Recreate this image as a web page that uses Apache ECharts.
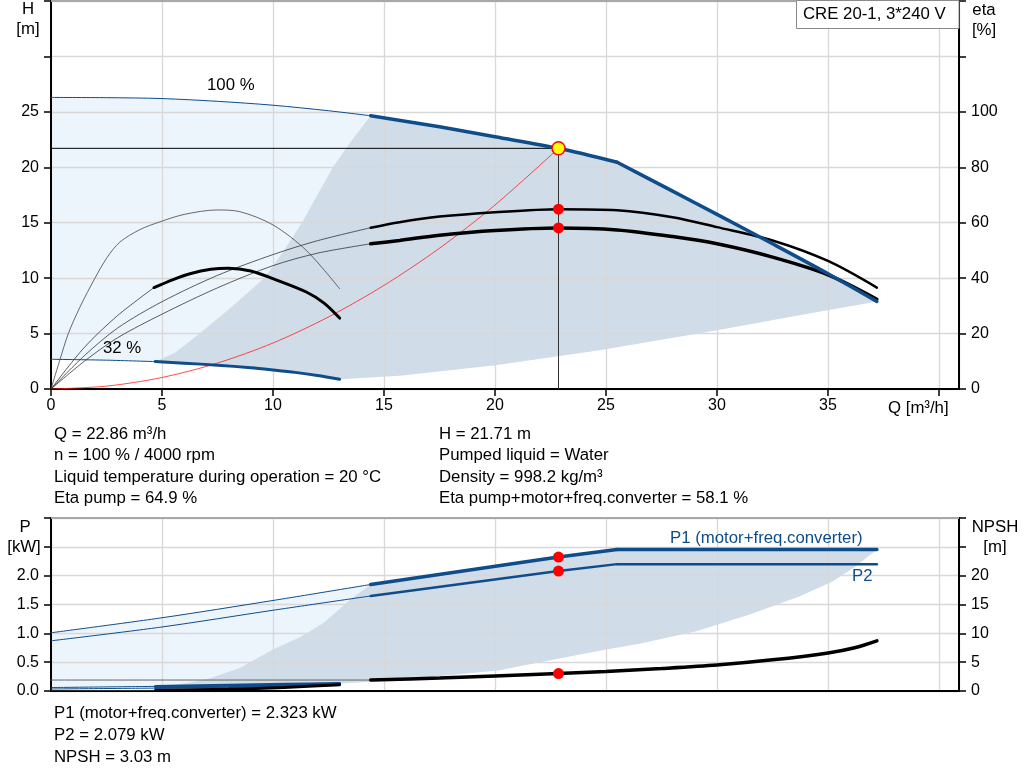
<!DOCTYPE html>
<html><head><meta charset="utf-8">
<script src="https://cdn.jsdelivr.net/npm/echarts@6/dist/echarts.min.js"></script>
<style>html,body{margin:0;padding:0;background:#fff}#c{width:1024px;height:781px}</style>
</head><body><div id="c"></div>
<script>
// ---------- Top chart: head H [m] vs Q [m3/h] ----------
const qH100Thin = [0, 2.5, 5, 7.5, 10, 12.5, 14.4];
const hH100Thin = [26.3, 26.28, 26.2, 25.95, 25.6, 25.1, 24.65];
const qH100ThickA = [14.4, 17.5, 20, 22.86, 25.5];
const hH100ThickA = [24.65, 23.65, 22.75, 21.71, 20.45];
const qH100ThickB = [25.5, 28, 30, 32.5, 35, 37.2];
const hH100ThickB = [20.45, 17.85, 15.75, 13.1, 10.4, 7.9];
const qH32Thin = [0, 2.5, 4.7];
const hH32Thin = [2.68, 2.6, 2.47];
const qH32Thick = [4.7, 6, 7.5, 9, 10, 11, 12, 13];
const hH32Thick = [2.47, 2.33, 2.15, 1.92, 1.72, 1.5, 1.22, 0.88];
// boundaries of the darker operating area
const qAreaLeft = [4.7, 5.6, 6.7, 8.2, 9.6, 10.5, 11.3, 12.0, 12.7, 13.5, 14.4];
const hAreaLeft = [2.47, 3.3, 5, 7.5, 10, 12.5, 15, 17.5, 20, 22.3, 24.65];
const qAreaLow = [13, 15.7, 20, 24.7, 30, 33.7, 37.2];
const hAreaLow = [0.88, 1.2, 2.15, 3.5, 5.3, 6.65, 7.9];
// efficiency curves [%]
const qEtaPumpThin = [0, 1.5, 3, 5, 7.5, 10, 12, 14.4];
const eEtaPumpThin = [0, 12, 22, 31.5, 41, 48.5, 53.5, 58.2];
const qEtaPumpThick = [14.4, 15.7, 17.5, 20, 22.86, 25.5, 28, 30, 32.5, 35, 37.2];
const eEtaPumpThick = [58.2, 60.2, 62.2, 63.8, 64.9, 64.5, 62, 58.4, 53.6, 46.2, 36.6];
const qEtaTotThin = [0, 1.5, 3, 5, 7.5, 10, 12, 14.4];
const eEtaTotThin = [0, 10, 18.5, 27, 36.5, 44.5, 49, 52.4];
const qEtaTotThick = [14.4, 15.7, 17.5, 20, 22.86, 25.5, 28, 30, 32.5, 35, 37.2];
const eEtaTotThick = [52.4, 53.6, 55.5, 57.2, 58.1, 57.4, 55.0, 52.4, 47.6, 41.2, 32.4];
const qEta32Pump = [0, 0.4, 0.78, 1.3, 1.98, 2.53, 3.1, 4.0, 4.9, 6, 7.46, 8.5, 10, 11.5, 13];
const eEta32Pump = [0, 10.5, 20, 29.5, 40, 47.5, 53, 57.5, 60.3, 63, 64.6, 64.0, 59.2, 50, 36.2];
const qEta32TotThin = [0, 1.5, 3, 4.64];
const eEta32TotThin = [0, 15, 26.5, 36.6];
const qEta32TotThick = [4.64, 5.5, 6.26, 7.2, 8, 9, 10, 11.5, 12.3, 13];
const eEta32TotThick = [36.6, 39.5, 41.6, 43.2, 43.6, 42.6, 39.8, 35, 31, 25.6];
// system curve
const qSystem = [0, 2.5, 5, 7.5, 10, 12.5, 15, 17.5, 20, 22.86];
const hSystem = [0, 0.26, 1.04, 2.34, 4.15, 6.5, 9.35, 12.7, 16.6, 21.71];
// duty point
const dutyQ = 22.86, dutyH = 21.71, dutyEtaPump = 64.9, dutyEtaTot = 58.1;
const dutyP1 = 2.323, dutyP2 = 2.079, dutyNPSH = 3.03;

// ---------- Bottom chart: power P [kW] and NPSH [m] ----------
const qP1Thin = [0, 5, 10, 14.4];
const pP1Thin = [1.01, 1.27, 1.57, 1.847];
const qP1ThickA = [14.4, 22.86, 25.5];
const pP1ThickA = [1.847, 2.323, 2.455];
const qP1ThickB = [25.5, 37.2];
const pP1ThickB = [2.455, 2.455];
const qP2Thin = [0, 5, 10, 14.4];
const pP2Thin = [0.87, 1.11, 1.40, 1.648];
const qP2ThickA = [14.4, 22.86, 25.5];
const pP2ThickA = [1.648, 2.079, 2.2];
const qP2ThickB = [25.5, 37.2];
const pP2ThickB = [2.2, 2.2];
const qP32Thin = [0, 4.7];
const pP1_32Thin = [0.06, 0.08];
const pP2_32Thin = [0.035, 0.05];
const qP32Thick = [4.7, 8, 10.5, 13];
const pP1_32Thick = [0.08, 0.1, 0.115, 0.13];
const pP2_32Thick = [0.05, 0.07, 0.088, 0.105];
const qPAreaLeft = [4.7, 5.8, 7, 8.5, 10, 11.3, 12.3, 13.5, 14.4];
const pPAreaLeft = [0.08, 0.12, 0.2, 0.4, 0.72, 0.95, 1.19, 1.59, 1.847];
const qPAreaLow = [13, 14.8, 17.5, 20.2, 22, 24.7, 26.5, 29.1, 31.5, 33.7, 35.2, 36.2, 37.2];
const pPAreaLow = [0.13, 0.17, 0.26, 0.36, 0.5, 0.7, 0.82, 1.04, 1.33, 1.64, 1.9, 2.15, 2.455];
const qNpshThin = [0, 14.4];
const nNpshThin = [1.9, 1.9];
const qNpshThick = [14.4, 17.5, 20, 22.86, 25, 27.5, 30, 32.5, 35, 36.2, 37.2];
const nNpshThick = [1.9, 2.25, 2.6, 3.03, 3.4, 3.9, 4.5, 5.4, 6.6, 7.5, 8.7];
const qNpsh32Thin = [0, 4.7];
const nNpsh32Thin = [0.05, 0.1];
const qNpsh32Thick = [4.7, 8, 10.5, 13];
const nNpsh32Thick = [0.1, 0.3, 0.6, 1.1];

// ---------- helpers ----------
const BLUE = '#0f4c8a', LIGHT = '#edf5fc', DARK = '#d0dce8';
const FONT = 'Liberation Sans, Arial, sans-serif';
const FS = 16.8;
const zip = (a, b) => a.map((v, i) => [v, b[i]]);
const rev = a => a.slice().reverse();
function line(q, v, xi, yi, color, width, z, smooth) {
  return { type: 'line', xAxisIndex: xi, yAxisIndex: yi, data: zip(q, v), showSymbol: false, silent: true,
    smooth: smooth === undefined ? 0.3 : smooth, z: z || 5, lineStyle: { color: color, width: width, cap: 'round' }, animation: false };
}
function poly(xi, yi, pts, color) {
  return { type: 'custom', xAxisIndex: xi, yAxisIndex: yi, silent: true, z: 1, animation: false, data: [[0, 0]],
    renderItem: (params, api) => ({ type: 'polygon', shape: { points: pts.map(p => api.coord(p)) }, style: { fill: color } }) };
}
function dots(pts, xi, yi, fill, border, size) {
  return { type: 'scatter', xAxisIndex: xi, yAxisIndex: yi, data: pts, symbolSize: size, silent: true, z: 8, animation: false,
    itemStyle: { color: fill, borderColor: border || fill, borderWidth: border ? 1.5 : 0, opacity: 1 } };
}
function txt(x, y, s, opts) {
  opts = opts || {};
  return { type: 'text', x: x, y: y, z: 21, silent: true,
    style: { text: s, fill: opts.color || '#000', font: FS + 'px ' + FONT, align: opts.align || 'left', verticalAlign: 'middle' } };
}

// region polygons
const topLight = zip(qH100Thin, hH100Thin).concat(zip(qH100ThickA, hH100ThickA)).concat(zip(qH100ThickB, hH100ThickB))
  .concat(rev(zip(qAreaLow, hAreaLow))).concat(rev(zip(qH32Thick, hH32Thick))).concat(rev(zip(qH32Thin, hH32Thin)));
const topDark = zip(qH100ThickA, hH100ThickA).concat(zip(qH100ThickB, hH100ThickB)).concat(rev(zip(qAreaLow, hAreaLow)))
  .concat(rev(zip(qH32Thick, hH32Thick))).concat(zip(qAreaLeft, hAreaLeft));
const botLight = zip(qP1Thin, pP1Thin).concat(zip(qP1ThickA, pP1ThickA)).concat(zip(qP1ThickB, pP1ThickB))
  .concat(rev(zip(qPAreaLow, pPAreaLow))).concat(rev(zip(qP32Thick, pP1_32Thick))).concat(rev(zip(qP32Thin, pP1_32Thin)));
const botDark = zip(qP1ThickA, pP1ThickA).concat(zip(qP1ThickB, pP1ThickB)).concat(rev(zip(qPAreaLow, pPAreaLow)))
  .concat(rev(zip(qP32Thick, pP1_32Thick))).concat(zip(qPAreaLeft, pPAreaLeft));

const axisLabelStyle = { color: '#000', fontSize: 16, fontFamily: FONT };
const splitLine = { show: true, lineStyle: { color: '#d8d8d8', width: 1.3 } };
const blackAxis = { show: true, lineStyle: { color: '#000', width: 2 } };
const tick = { show: true, length: 7, lineStyle: { color: '#000', width: 1.5 } };

const chart = echarts.init(document.getElementById('c'));
chart.setOption({
  animation: false,
  backgroundColor: '#fff',
  grid: [
    { left: 51, right: 65, top: 1, height: 388 },
    { left: 51, right: 65, top: 518, height: 173 }
  ],
  xAxis: [
    { gridIndex: 0, type: 'value', min: 0, max: 40.9, interval: 5, z: 3,
      axisLine: blackAxis, axisTick: tick,
      axisLabel: Object.assign({ margin: 9, showMaxLabel: false, formatter: v => (v <= 35 ? String(v) : '') }, axisLabelStyle),
      splitLine: splitLine },
    { gridIndex: 1, type: 'value', min: 0, max: 40.9, interval: 5, z: 3,
      axisLine: blackAxis, axisTick: { show: false }, axisLabel: { show: false }, splitLine: splitLine }
  ],
  yAxis: [
    { gridIndex: 0, type: 'value', min: 0, max: 35, interval: 5, z: 3, position: 'left',
      axisLine: blackAxis, axisTick: tick,
      axisLabel: Object.assign({ margin: 12, formatter: v => (v <= 25 ? String(v) : '') }, axisLabelStyle),
      splitLine: splitLine },
    { gridIndex: 0, type: 'value', min: 0, max: 140, interval: 20, z: 3, position: 'right',
      axisLine: blackAxis, axisTick: tick,
      axisLabel: Object.assign({ margin: 12, formatter: v => (v <= 100 ? String(v) : '') }, axisLabelStyle),
      splitLine: { show: false } },
    { gridIndex: 1, type: 'value', min: 0, max: 3, interval: 0.5, z: 3, position: 'left',
      axisLine: blackAxis, axisTick: tick,
      axisLabel: Object.assign({ margin: 12, formatter: v => (v <= 2 ? v.toFixed(1) : '') }, axisLabelStyle),
      splitLine: splitLine },
    { gridIndex: 1, type: 'value', min: 0, max: 30, interval: 5, z: 3, position: 'right',
      axisLine: blackAxis, axisTick: tick,
      axisLabel: Object.assign({ margin: 12, formatter: v => (v <= 20 ? String(v) : '') }, axisLabelStyle),
      splitLine: { show: false } }
  ],
  series: [
    poly(0, 0, topLight, LIGHT),
    poly(0, 0, topDark, DARK),
    // head curves
    line(qH100Thin, hH100Thin, 0, 0, BLUE, 1),
    line(qH100ThickA, hH100ThickA, 0, 0, BLUE, 3.5, 6),
    line(qH100ThickB, hH100ThickB, 0, 0, BLUE, 3.5, 6),
    line(qH32Thin, hH32Thin, 0, 0, BLUE, 1),
    line(qH32Thick, hH32Thick, 0, 0, BLUE, 3),
    // efficiency curves
    line(qEtaPumpThin, eEtaPumpThin, 0, 1, '#333', 0.8),
    line(qEtaPumpThick, eEtaPumpThick, 0, 1, '#000', 2.5),
    line(qEtaTotThin, eEtaTotThin, 0, 1, '#333', 0.8),
    line(qEtaTotThick, eEtaTotThick, 0, 1, '#000', 3.5),
    line(qEta32Pump, eEta32Pump, 0, 1, '#444', 0.8, 5, 0.3),
    line(qEta32TotThin, eEta32TotThin, 0, 1, '#333', 0.8),
    line(qEta32TotThick, eEta32TotThick, 0, 1, '#000', 3),
    // system curve
    line(qSystem, hSystem, 0, 0, '#ff2020', 0.8, 4),
    // duty point crosshair
    line([0, dutyQ], [dutyH, dutyH], 0, 0, '#000', 1, 4, false),
    line([dutyQ, dutyQ], [dutyH, 0], 0, 0, '#333', 1, 4, false),
    dots([[dutyQ, dutyEtaPump], [dutyQ, dutyEtaTot]], 0, 1, '#ff0000', null, 11),
    dots([[dutyQ, dutyH]], 0, 0, '#ffff00', '#ff0000', 13),
    // bottom chart
    poly(1, 2, botLight, LIGHT),
    poly(1, 2, botDark, DARK),
    line(qP1Thin, pP1Thin, 1, 2, BLUE, 1),
    line(qP1ThickA, pP1ThickA, 1, 2, BLUE, 3.5, 5, false),
    line(qP1ThickB, pP1ThickB, 1, 2, BLUE, 3.5, 5, false),
    line(qP2Thin, pP2Thin, 1, 2, BLUE, 1),
    line(qP2ThickA, pP2ThickA, 1, 2, BLUE, 2.5, 5, false),
    line(qP2ThickB, pP2ThickB, 1, 2, BLUE, 2.5, 5, false),
    line(qP32Thin, pP1_32Thin, 1, 2, BLUE, 1),
    line(qP32Thick, pP1_32Thick, 1, 2, BLUE, 3),
    line(qP32Thin, pP2_32Thin, 1, 2, BLUE, 1),
    line(qP32Thick, pP2_32Thick, 1, 2, BLUE, 2),
    line(qNpshThin, nNpshThin, 1, 3, '#666', 1),
    line(qNpshThick, nNpshThick, 1, 3, '#000', 3.5),
    line(qNpsh32Thin, nNpsh32Thin, 1, 3, '#333', 1),
    line(qNpsh32Thick, nNpsh32Thick, 1, 3, '#000', 3),
    dots([[dutyQ, dutyP1], [dutyQ, dutyP2]], 1, 2, '#ff0000', null, 11),
    dots([[dutyQ, dutyNPSH]], 1, 3, '#ff0000', null, 11)
  ],
  graphic: [
    { type: 'line', silent: true, shape: { x1: 51, y1: 1, x2: 959, y2: 1 }, style: { stroke: '#a8a8a8', lineWidth: 2 }, z: 10 },
    { type: 'line', silent: true, shape: { x1: 51, y1: 518, x2: 959, y2: 518 }, style: { stroke: '#a8a8a8', lineWidth: 2 }, z: 10 },
    { type: 'rect', silent: true, shape: { x: 796.5, y: 0.5, width: 162.5, height: 28 }, style: { fill: '#fff', stroke: '#8a8a8a', lineWidth: 1 }, z: 20 },
    txt(803, 14, 'CRE 20-1, 3*240 V'),
    txt(28, 9, 'H', { align: 'center' }),
    txt(28, 29, '[m]', { align: 'center' }),
    txt(984, 10, 'eta', { align: 'center' }),
    txt(984, 30, '[%]', { align: 'center' }),
    txt(888, 408, 'Q [m³/h]'),
    txt(207, 85, '100 %'),
    txt(103, 348, '32 %'),
    txt(54, 434, 'Q = 22.86 m³/h'),
    txt(54, 455, 'n = 100 % / 4000 rpm'),
    txt(54, 477, 'Liquid temperature during operation = 20 °C'),
    txt(54, 498, 'Eta pump = 64.9 %'),
    txt(439, 434, 'H = 21.71 m'),
    txt(439, 455, 'Pumped liquid = Water'),
    txt(439, 477, 'Density = 998.2 kg/m³'),
    txt(439, 498, 'Eta pump+motor+freq.converter = 58.1 %'),
    txt(25, 527, 'P', { align: 'center' }),
    txt(24, 547, '[kW]', { align: 'center' }),
    txt(995, 527, 'NPSH', { align: 'center' }),
    txt(995, 547, '[m]', { align: 'center' }),
    txt(670, 538, 'P1 (motor+freq.converter)', { color: BLUE }),
    txt(852, 576, 'P2', { color: BLUE }),
    txt(54, 713, 'P1 (motor+freq.converter) = 2.323 kW'),
    txt(54, 735, 'P2 = 2.079 kW'),
    txt(54, 757, 'NPSH = 3.03 m')
  ]
});
</script></body></html>
